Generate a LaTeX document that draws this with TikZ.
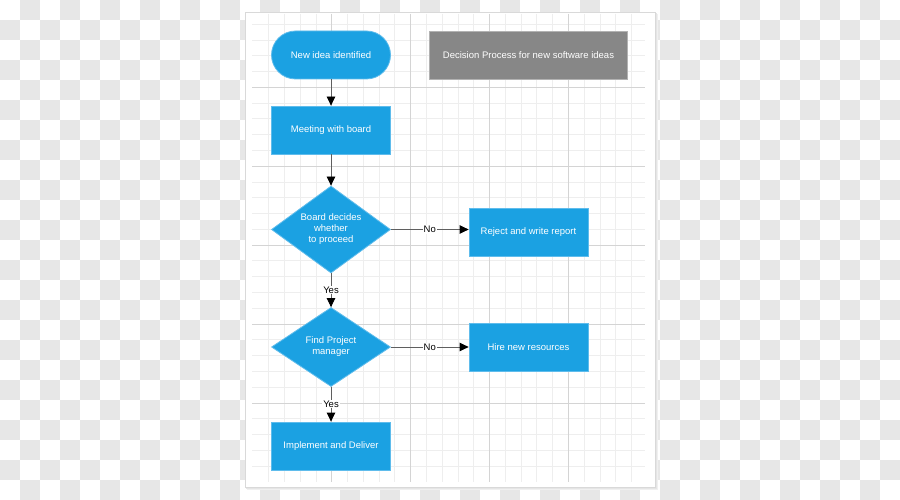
\documentclass[tikz,border=0pt]{standalone}
\usepackage{fontspec}
\setmainfont{Liberation Sans}
\usetikzlibrary{shapes.geometric,arrows.meta}
\definecolor{flowblue}{RGB}{27,161,226}
\definecolor{flowedge}{RGB}{95,188,236}
\definecolor{titlegray}{RGB}{135,135,135}
\definecolor{titleedge}{RGB}{178,178,178}
\definecolor{checkgray}{RGB}{231,231,231}
\definecolor{minorgrid}{RGB}{238,238,238}
\definecolor{majorgrid}{RGB}{212,212,212}
\definecolor{linkgray}{RGB}{95,95,95}
\tikzset{
  flowfont/.style={font=\fontsize{9.5}{11}\selectfont},
  procbox/.style={draw=flowedge, fill=flowblue, text=white, line width=0.8pt,
    minimum width=119pt, minimum height=48pt, inner sep=0pt, flowfont, align=center},
  termbox/.style={procbox, rounded corners=24pt},
  decbox/.style={diamond, draw=flowedge, fill=flowblue, text=white, line width=0.8pt,
    inner sep=0pt, minimum width=119pt, flowfont, align=center},
  titlebox/.style={draw=titleedge, fill=titlegray, text=white, line width=0.8pt,
    minimum width=198pt, minimum height=48pt, inner sep=0pt, flowfont},
  link/.style={draw=linkgray, line width=0.8pt, -{Triangle[length=9pt,width=8.5pt,color=black]}},
  linklabel/.style={fill=white, inner sep=0.8pt, text=black, flowfont},
  minorline/.style={draw=minorgrid, line width=0.8pt},
  majorline/.style={draw=majorgrid, line width=0.8pt},
  checkcell/.style={fill=checkgray}
}
\begin{document}
\begin{tikzpicture}[x=1pt,y=-1pt]
\useasboundingbox (0,0) rectangle (900,500);
% checkerboard background
\fill[white] (0,0) rectangle (900,500);
\foreach \i in {1,3,...,43}{
  \foreach \j in {0,2,...,24}{
    \path[checkcell] (\i*20,\j*20) rectangle ++(20,20);
  }
}
\foreach \i in {0,2,...,44}{
  \foreach \j in {1,3,...,23}{
    \path[checkcell] (\i*20,\j*20) rectangle ++(20,20);
  }
}
% page with shadow
\fill[black!6] (247,14) rectangle (658,490);
\fill[black!10] (246,13) rectangle (656.5,488.5);
\fill[white] (245,12) rectangle (655,487);
\draw[black!15, line width=0.6pt] (245,12) rectangle (655,487);
% grid
\foreach \k in {1,...,24}{
  \draw[minorline] ({252.8+15.78*\k},14) -- ({252.8+15.78*\k},481.8);
}
\foreach \k in {1,...,29}{
  \draw[minorline] (252,{8.4+15.78*\k}) -- (645,{8.4+15.78*\k});
}
\foreach \k in {1,...,4}{
  \draw[majorline] ({252.8+78.9*\k},14) -- ({252.8+78.9*\k},481.8);
}
\foreach \k in {1,...,5}{
  \draw[majorline] (252,{8.4+78.9*\k}) -- (645,{8.4+78.9*\k});
}
% nodes
\node[termbox] (idea) at (331,55) {New idea identified};
\node[titlebox] (title) at (528.5,55) {Decision Process for new software ideas};
\node[procbox] (meet) at (331,130) {Meeting with board};
\node[decbox, minimum height=87pt, shape aspect=1.37] (board) at (331,229.5) {Board decides\\whether\\to proceed};
\node[procbox] (reject) at (528.5,232) {Reject and write report};
\node[decbox, minimum height=79pt, shape aspect=1.5] (pm) at (331,347) {Find Project\\manager};
\node[procbox] (hire) at (528.5,347.5) {Hire new resources};
\node[procbox] (impl) at (331,446) {Implement and Deliver};
% connectors
\draw[link] (idea) -- (meet);
\draw[link] (meet) -- (board);
\draw[link] (board.south) -- node[linklabel] (yes1) {Yes} (pm.north);
\draw[link] (pm.south) -- node[linklabel] (yes2) {Yes} (impl.north);
\draw[link] (board.east) -- node[linklabel] (no1) {No} (board.east -| reject.west);
\draw[link] (pm.east) -- node[linklabel] (no2) {No} (pm.east -| hire.west);
\end{tikzpicture}
\end{document}
